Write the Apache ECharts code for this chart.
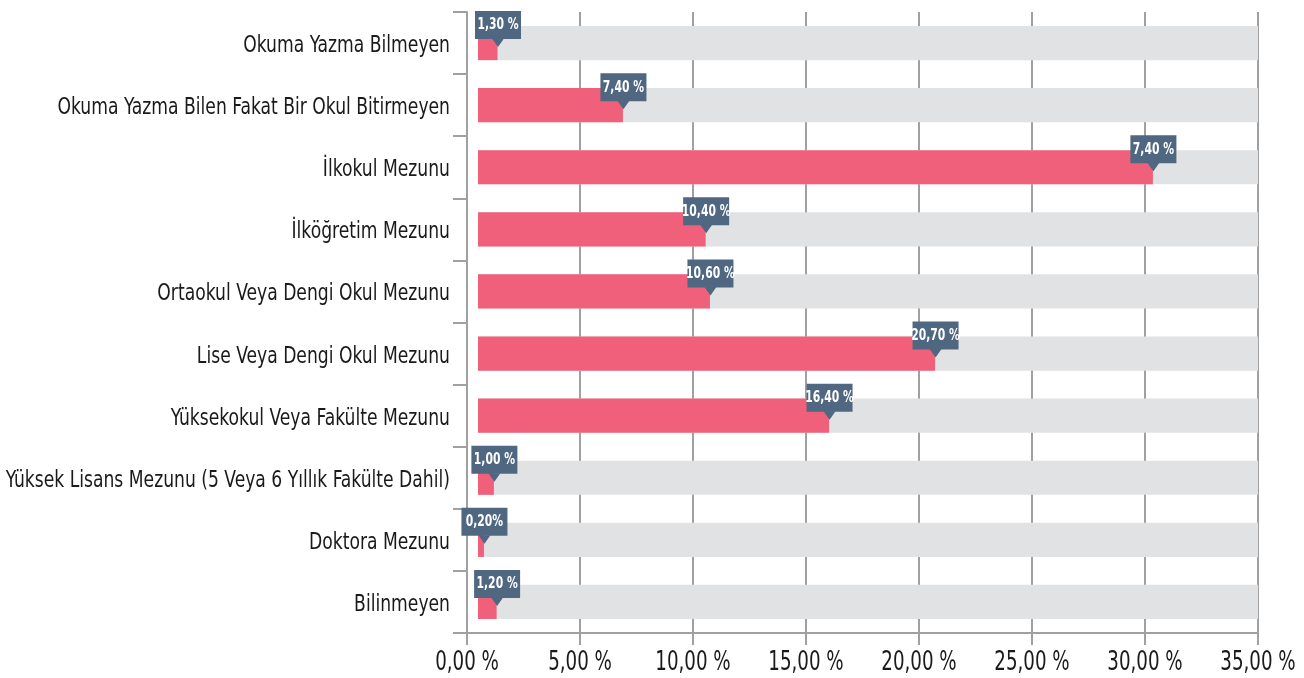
<!DOCTYPE html>
<html>
<head>
<meta charset="utf-8">
<script src="https://cdn.jsdelivr.net/npm/echarts@6/dist/echarts.min.js"></script>
<style>
html,body{margin:0;padding:0;background:#fff;}
#chart{width:1304px;height:678px;}
</style>
</head>
<body>
<div id="chart"></div>
<script>
// ---- data ----
var categories = [
  'Okuma Yazma Bilmeyen',
  'Okuma Yazma Bilen Fakat Bir Okul Bitirmeyen',
  'İlkokul Mezunu',
  'İlköğretim Mezunu',
  'Ortaokul Veya Dengi Okul Mezunu',
  'Lise Veya Dengi Okul Mezunu',
  'Yüksekokul Veya Fakülte Mezunu',
  'Yüksek Lisans Mezunu (5 Veya 6 Yıllık Fakülte Dahil)',
  'Doktora Mezunu',
  'Bilinmeyen'
];
var values = [1.35, 6.9, 30.35, 10.56, 10.75, 20.71, 16.02, 1.19, 0.75, 1.31];
var labelTexts = ['1,30 %', '7,40 %', '7,40 %', '10,40 %', '10,60 %', '20,70 %', '16,40 %', '1,00 %', '0,20%', '1,20 %'];
var axisMin = 0;
var axisMax = 35;
var axisStep = 5;
var tickLabels = ['0,00 %', '5,00 %', '10,00 %', '15,00 %', '20,00 %', '25,00 %', '30,00 %', '35,00 %'];

// ---- style ----
var FONT = '"DejaVu Sans Condensed", "DejaVu Sans", sans-serif';
var RED = '#f0607a';
var BG = '#e1e2e4';
var BOX = '#4f6780';
var AXIS = '#a0a0a0';
var TEXT = '#1a1a1a';
var START_GAP = 11;

var chart = echarts.init(document.getElementById('chart'));

function barRect(api, v) {
  var idx = api.value(1);
  var s = api.coord([axisMin, idx]);
  var e = api.coord([v, idx]);
  var band = api.size([0, 1])[1];
  var h = band * 0.55;
  var x0 = s[0] + START_GAP;
  return {x: x0, y: e[1] - h / 2, width: Math.max(0, e[0] - x0), height: h};
}

var bgData = categories.map(function (c, i) { return [axisMax, i]; });
var redData = values.map(function (v, i) { return [v, i]; });
var catLabelData = categories.map(function (c, i) { return [axisMin, i]; });
var tickLabelData = tickLabels.map(function (t, i) { return [axisMin + i * axisStep, categories.length - 1]; });

chart.setOption({
  animation: false,
  grid: {left: 467, right: 46, top: 12, bottom: 45, containLabel: false, outerBoundsMode: 'none'},
  xAxis: {
    type: 'value',
    min: axisMin, max: axisMax, interval: axisStep,
    axisLine: {show: true, lineStyle: {color: AXIS, width: 2}},
    axisTick: {show: true, length: 12, lineStyle: {color: AXIS, width: 2}},
    splitLine: {show: true, lineStyle: {color: AXIS, width: 2}},
    axisLabel: {show: false}
  },
  yAxis: {
    type: 'category',
    inverse: true,
    data: categories,
    boundaryGap: true,
    axisLine: {show: true, lineStyle: {color: AXIS, width: 2}},
    axisTick: {show: true, length: 14, lineStyle: {color: AXIS, width: 2}},
    splitLine: {show: false},
    axisLabel: {show: false}
  },
  series: [
    {
      type: 'custom', data: bgData, encode: {x: 0, y: 1}, z: 2, silent: true,
      renderItem: function (params, api) {
        return {type: 'rect', shape: barRect(api, api.value(0)), style: {fill: BG}};
      }
    },
    {
      type: 'custom', data: redData, encode: {x: 0, y: 1}, z: 3, silent: true,
      renderItem: function (params, api) {
        return {type: 'rect', shape: barRect(api, api.value(0)), style: {fill: RED}};
      }
    },
    {
      // callout labels
      type: 'custom', data: redData, encode: {x: 0, y: 1}, z: 5, silent: true,
      renderItem: function (params, api) {
        var p = api.coord([api.value(0), api.value(1)]);
        var text = labelTexts[params.dataIndex];
        var w = 46, bh = 28;
        var cx = p[0] + 0.5, cy = p[1];
        var top = cy - 32;
        return {
          type: 'group',
          children: [
            {type: 'rect', shape: {x: cx - w / 2, y: top, width: w, height: bh}, style: {fill: BOX}},
            {type: 'polygon', shape: {points: [[cx - 6, top + bh - 0.5], [cx + 6, top + bh - 0.5], [cx, top + bh + 8]]}, style: {fill: BOX}},
            {type: 'text', x: cx, y: top + bh / 2 + 0.5, scaleX: 0.8, style: {
              x: 0, y: 0, text: text,
              align: 'center', verticalAlign: 'middle',
              fill: '#ffffff', fontFamily: FONT, fontWeight: 'bold', fontSize: 15
            }}
          ]
        };
      }
    },
    {
      // category labels (condensed look)
      type: 'custom', data: catLabelData, encode: {x: 0, y: 1}, z: 5, silent: true,
      renderItem: function (params, api) {
        var p = api.coord([api.value(0), api.value(1)]);
        return {type: 'text', x: p[0] - 17, y: p[1] + 3, scaleX: 0.83, style: {
          x: 0, y: 0, text: categories[params.dataIndex],
          align: 'right', verticalAlign: 'middle',
          fill: TEXT, fontFamily: FONT, fontSize: 23
        }};
      }
    },
    {
      // x tick labels (condensed look)
      type: 'custom', data: tickLabelData, encode: {x: 0, y: 1}, z: 5, silent: true,
      renderItem: function (params, api) {
        var p = api.coord([api.value(0), api.value(1)]);
        var band = api.size([0, 1])[1];
        return {type: 'text', x: p[0], y: p[1] + band / 2 + 30, scaleX: 0.78, style: {
          x: 0, y: 0, text: tickLabels[params.dataIndex],
          align: 'center', verticalAlign: 'middle',
          fill: TEXT, fontFamily: FONT, fontSize: 26
        }};
      }
    }
  ]
});
</script>
</body>
</html>
